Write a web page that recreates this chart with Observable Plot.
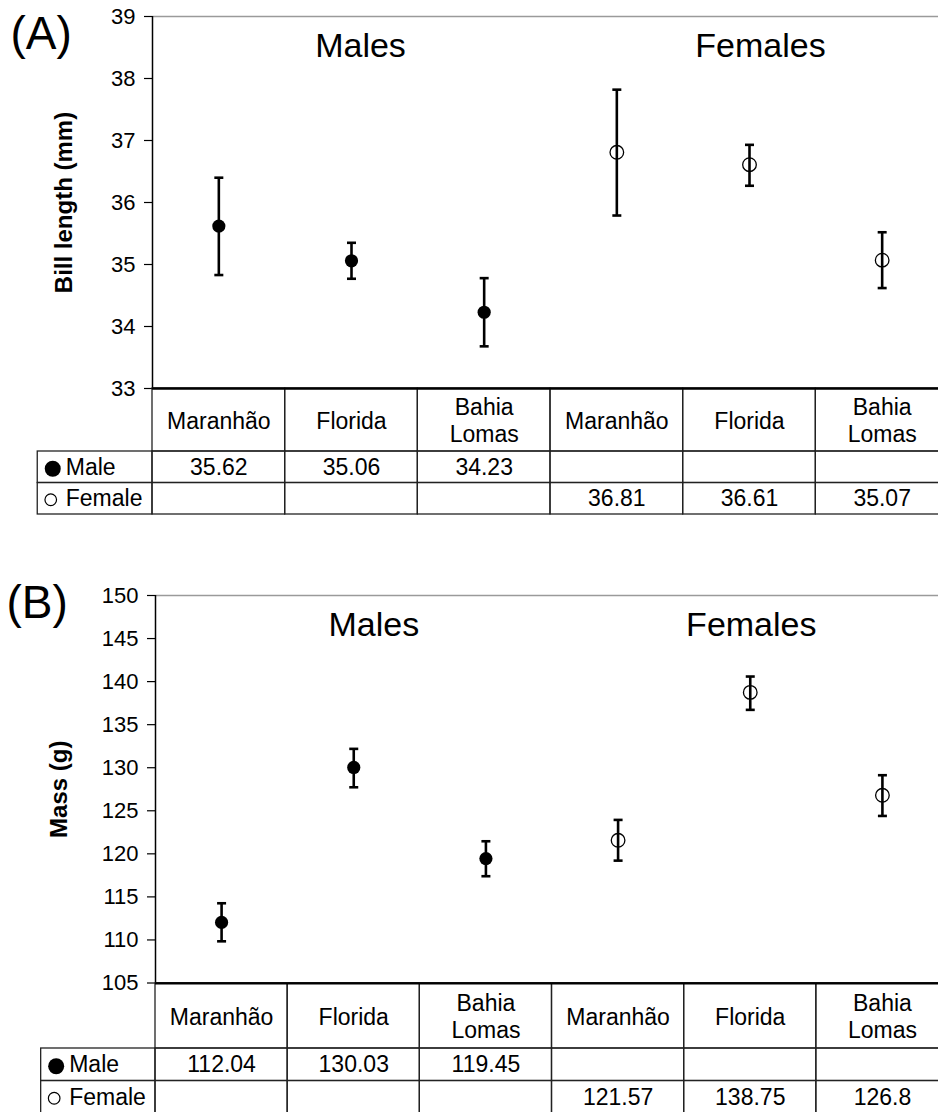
<!DOCTYPE html>
<html>
<head>
<meta charset="utf-8">
<script src="https://cdn.jsdelivr.net/npm/d3@7"></script>
<script src="https://cdn.jsdelivr.net/npm/@observablehq/plot@0.6"></script>
<style>
html, body { margin: 0; padding: 0; background: #fff; overflow: hidden; }
#page { position: relative; width: 938px; height: 1112px; overflow: hidden; background: #fff; }
#page svg { position: absolute; left: 0; overflow: visible; }
</style>
</head>
<body>
<div id="page"></div>
<script>
// ---------- data ----------
const columnSex = ["Male", "Male", "Male", "Female", "Female", "Female"];
const columnSite = ["Maranhão", "Florida", "Bahia\nLomas", "Maranhão", "Florida", "Bahia\nLomas"];
const groupLabels = ["Males", "Females"];
const rowLabels = ["Male", "Female"];

const billMean = [35.62, 35.06, 34.23, 36.81, 36.61, 35.07];
const billLow  = [34.83, 34.77, 33.68, 35.79, 36.27, 34.62];
const billHigh = [36.40, 35.35, 34.78, 37.82, 36.93, 35.52];
const billTicks = [33, 34, 35, 36, 37, 38, 39];

const massMean = [112.04, 130.03, 119.45, 121.57, 138.75, 126.8];
const massLow  = [109.84, 127.73, 117.40, 119.21, 136.72, 124.40];
const massHigh = [114.26, 132.19, 121.46, 123.94, 140.59, 129.13];
const massTicks = [105, 110, 115, 120, 125, 130, 135, 140, 145, 150];

// ---------- layout / style ----------
const FONT = '"Liberation Sans", Arial, Helvetica, sans-serif';
const LABEL_COL = 0.865; // width of the row-label column, in column units
const capSymbol = {
  draw(ctx, size) {
    const r = Math.sqrt(size / Math.PI);
    ctx.moveTo(-r, 0);
    ctx.lineTo(r, 0);
  }
};

const page = document.getElementById("page");

function chartPanel({mean, low, high, ticks, yLabel, panel, groupX, groupY, top, height, marginTop, marginLeft, labelDx, panelDx, panelDy}) {
  const data = mean.map((m, i) => ({x: i + 0.5, mean: m, low: low[i], high: high[i], sex: columnSex[i]}));
  const groups = groupLabels.map((g, i) => ({text: g, x: groupX[i], y: groupY}));
  const svg = Plot.plot({
    width: 938,
    height,
    marginTop,
    marginBottom: 1,
    marginLeft,
    marginRight: -10,
    style: {fontFamily: FONT, fontSize: "22px", color: "#000", background: "transparent", overflow: "visible"},
    x: {domain: [0, 6], axis: null},
    y: {domain: [ticks[0], ticks[ticks.length - 1]], axis: null},
    marks: [
      Plot.ruleY([ticks[ticks.length - 1]], {stroke: "#9a9a9a", strokeWidth: 1.5}),
      Plot.ruleX([0], {stroke: "#000", strokeWidth: 1.5}),
      Plot.ruleY([ticks[0]], {stroke: "#000", strokeWidth: 2}),
      Plot.axisY({ticks, tickFormat: d => String(d), tickSize: 8, tickPadding: 9, fontSize: 22, label: null, stroke: "#000", strokeWidth: 1.2}),
      Plot.text([yLabel], {frameAnchor: "left", dx: labelDx, rotate: -90, textAnchor: "middle", lineAnchor: "middle", fontSize: 24, fontWeight: "bold", fill: "#000"}),
      Plot.text([panel], {frameAnchor: "top-left", dx: panelDx, dy: panelDy, textAnchor: "start", lineAnchor: "top", fontSize: 46, fill: "#000"}),
      Plot.text(groups, {x: "x", y: "y", text: "text", fontSize: 34, fill: "#000"}),
      Plot.ruleX(data, {x: "x", y1: "low", y2: "high", stroke: "#000", strokeWidth: 2.6}),
      Plot.dot(data, {x: "x", y: "low", symbol: capSymbol, r: 4.5, stroke: "#000", strokeWidth: 2.6, fill: "none"}),
      Plot.dot(data, {x: "x", y: "high", symbol: capSymbol, r: 4.5, stroke: "#000", strokeWidth: 2.6, fill: "none"}),
      Plot.dot(data.filter(d => d.sex === "Male"), {x: "x", y: "mean", r: 6.6, fill: "#000", stroke: "none"}),
      Plot.dot(data.filter(d => d.sex === "Female"), {x: "x", y: "mean", r: 6.8, fill: "none", stroke: "#000", strokeWidth: 1.3})
    ]
  });
  svg.style.top = top + "px";
  page.appendChild(svg);
}

function tablePanel({mean, top, height, marginTop, marginBottom, marginLeft}) {
  const cols = mean.map((m, i) => ({x1: i, x2: i + 1, xc: i + 0.5, site: columnSite[i], sex: columnSex[i], value: String(m)}));
  const rowY = s => (s === "Male" ? 2 : 3);
  const body = cols.flatMap(c => rowLabels.map(s => ({...c, row: s})));
  const labels = rowLabels.map(s => ({row: s, name: s}));
  const stroke = "#222";
  const svg = Plot.plot({
    width: 938,
    height,
    marginTop,
    marginBottom,
    marginLeft,
    marginRight: -10,
    style: {fontFamily: FONT, fontSize: "23px", color: "#000", background: "transparent", overflow: "visible"},
    x: {domain: [0, 6], axis: null},
    y: {domain: [0, 4], reverse: true, axis: null},
    marks: [
      Plot.rect(cols, {x1: "x1", x2: "x2", y1: 0, y2: 2, fill: "none", stroke, strokeWidth: 1.3}),
      Plot.rect(body, {x1: "x1", x2: "x2", y1: d => rowY(d.row), y2: d => rowY(d.row) + 1, fill: "none", stroke, strokeWidth: 1.3}),
      Plot.rect(labels, {x1: -LABEL_COL, x2: 0, y1: d => rowY(d.row), y2: d => rowY(d.row) + 1, fill: "none", stroke, strokeWidth: 1.3}),
      Plot.ruleY([0], {stroke: "#000", strokeWidth: 2}),
      Plot.text(cols, {x: "xc", y: 1, text: "site", lineHeight: 1.17, fontSize: 23, fill: "#000"}),
      Plot.text(cols, {x: "xc", y: d => rowY(d.sex) + 0.5, text: "value", fontSize: 23, fill: "#000"}),
      // legend symbols of the row labels
      Plot.dot(labels.filter(d => d.row === "Male"), {x: -LABEL_COL, dx: 15, dy: 1.5, y: d => rowY(d.row) + 0.5, r: 8, fill: "#000", stroke: "none"}),
      Plot.dot(labels.filter(d => d.row === "Female"), {x: -LABEL_COL, dx: 13, dy: 1, y: d => rowY(d.row) + 0.5, r: 5.8, fill: "none", stroke: "#000", strokeWidth: 1.2}),
      Plot.text(labels, {x: -LABEL_COL, dx: 28, y: d => rowY(d.row) + 0.5, text: "name", textAnchor: "start", fontSize: 23, fill: "#000"})
    ]
  });
  svg.style.top = top + "px";
  page.appendChild(svg);
}

// Panel A
chartPanel({
  mean: billMean, low: billLow, high: billHigh, ticks: billTicks,
  yLabel: "Bill length (mm)", panel: "(A)",
  groupX: [1.568, 4.583], groupY: 38.53,
  top: 0, height: 389, marginTop: 16, marginLeft: 152,
  labelDx: -88, panelDx: -142, panelDy: 0
});
tablePanel({mean: billMean, top: 387, height: 129, marginTop: 1, marginBottom: 2, marginLeft: 152});

// Panel B
chartPanel({
  mean: massMean, low: massLow, high: massHigh, ticks: massTicks,
  yLabel: "Mass (g)", panel: "(B)",
  groupX: [1.652, 4.508], groupY: 146.52,
  top: 570, height: 413.5, marginTop: 25, marginLeft: 155,
  labelDx: -96, panelDx: -149, panelDy: -10
});
tablePanel({mean: massMean, top: 981.5, height: 132, marginTop: 1, marginBottom: 1, marginLeft: 155});
</script>
</body>
</html>
